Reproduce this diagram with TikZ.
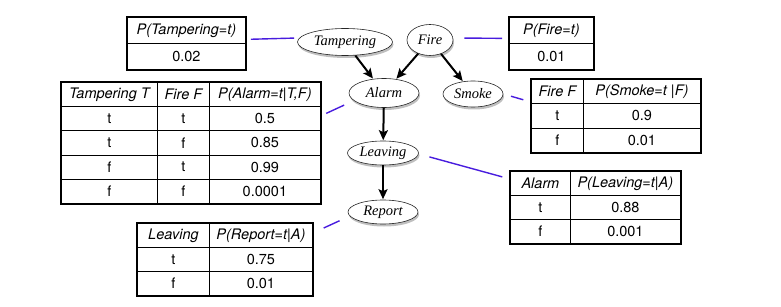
\documentclass[tikz,border=0pt]{standalone}
\usepackage{fontspec}
\usetikzlibrary{matrix,shapes.geometric,shadows,arrows.meta}
\newfontfamily\cptfamily{TeX Gyre Heros}
\newfontfamily\varfamily{Liberation Serif}
\definecolor{linkblue}{RGB}{72,28,222}
% soft white-to-grey fill of the variable ellipses
\pgfdeclareradialshading{nodeglow}{\pgfpoint{-4bp}{7bp}}{color(0bp)=(white); color(28bp)=(white); color(40bp)=(black!18); color(50bp)=(black!48); color(60bp)=(black!48)}

\begin{document}
\begin{tikzpicture}[x=1pt,y=-1pt,
  cpt/.style={matrix of nodes, anchor=north west, inner sep=0pt, outer sep=0pt,
     draw, line width=1.8pt, column sep=-0.8pt, row sep=-0.8pt,
     nodes={draw, line width=0.8pt, inner sep=0pt, outer sep=0pt, anchor=center,
            font=\cptfamily\fontsize{14.5}{16}\selectfont},
     row 1/.style={nodes={font=\cptfamily\itshape\fontsize{14.5}{16}\selectfont}}},
  var/.style={ellipse, draw=black!85, line width=0.6pt, inner sep=0pt,
     shade, shading=nodeglow,
     font=\varfamily\itshape\fontsize{14.5}{16}\selectfont,
     drop shadow={shadow xshift=1pt, shadow yshift=-2.5pt, opacity=0.5}},
  dep/.style={line width=2pt, -{Stealth[length=10pt,width=9pt,inset=2pt]}, shorten >=0.5pt},
  link/.style={draw=linkblue, line width=1.4pt},
]
\useasboundingbox (0,0) rectangle (781,307);

% variables of the network
\node[var, minimum width=95pt, minimum height=27pt] (tamp)   at (345,42)  {Tampering};
\node[var, minimum width=46pt, minimum height=31pt] (fire)   at (430,40)  {Fire};
\node[var, minimum width=70pt, minimum height=29pt] (alarm)  at (384,93)  {Alarm};
\node[var, minimum width=60pt, minimum height=26pt] (smoke)  at (473,94)  {Smoke};
\node[var, minimum width=71pt, minimum height=24pt] (leave)  at (383,153) {Leaving};
\node[var, minimum width=70pt, minimum height=24pt] (report) at (383,212) {Report};

% dependencies
\draw[dep] (tamp) -- (alarm);
\draw[dep] (fire) -- (alarm);
\draw[dep] (fire) -- (smoke);
\draw[dep] (alarm) -- (leave);
\draw[dep] (leave) -- (report);

% conditional probability tables
\matrix (ptamp) [cpt, nodes={minimum height=26pt, minimum width=118pt}] at (127,17) {
  P(Tampering=t) \\
  0.02 \\
};
\matrix (pfire) [cpt, nodes={minimum height=26pt, minimum width=84pt}] at (509,17) {
  P(Fire=t) \\
  0.01 \\
};
\matrix (talarm) [cpt, nodes={minimum height=24.2pt},
    column 1/.style={nodes={minimum width=96pt}},
    column 2/.style={nodes={minimum width=52pt}},
    column 3/.style={nodes={minimum width=111pt}}] at (61,82) {
  Tampering T & Fire F & P(Alarm=t\textbar T,F) \\
  t & t & 0.5 \\
  t & f & 0.85 \\
  f & t & 0.99 \\
  f & f & 0.0001 \\
};
\matrix (tsmoke) [cpt, nodes={minimum height=24.3pt},
    column 1/.style={nodes={minimum width=52pt}},
    column 2/.style={nodes={minimum width=117pt}}] at (531,79) {
  Fire F & P(Smoke=t \textbar F) \\
  t & 0.9 \\
  f & 0.01 \\
};
\matrix (tleave) [cpt, nodes={minimum height=24pt},
    column 1/.style={nodes={minimum width=60pt}},
    column 2/.style={nodes={minimum width=110pt}}] at (510,171) {
  Alarm & P(Leaving=t\textbar A) \\
  t & 0.88 \\
  f & 0.001 \\
};
\matrix (treport) [cpt, nodes={minimum height=24pt},
    column 1/.style={nodes={minimum width=72pt}},
    column 2/.style={nodes={minimum width=103pt}}] at (137,223) {
  Leaving & P(Report=t\textbar A) \\
  t & 0.75 \\
  f & 0.01 \\
};

% table-to-variable links
\draw[link, shorten <=5pt, shorten >=3pt] ([yshift=4pt]ptamp.east) -- ([yshift=4pt]tamp.west);
\draw[link, shorten <=11pt, shorten >=7pt] ([yshift=2pt]fire.east) -- ([yshift=5pt]pfire.west);
\draw[link, shorten <=8pt, shorten >=8pt] (smoke.east) -- ([yshift=-23pt]tsmoke.north west);
\draw[link, shorten <=6pt, shorten >=5pt] ([yshift=27pt]talarm.east) -- ([yshift=-10pt]alarm.west);
\draw[link, shorten <=11pt, shorten >=8pt] ([yshift=-1pt]leave.east) -- ([yshift=-8pt]tleave.north west);
\draw[link, shorten <=12pt, shorten >=9pt] ([yshift=-10pt]treport.north east) -- ([yshift=-5pt]report.west);
\end{tikzpicture}
\end{document}
